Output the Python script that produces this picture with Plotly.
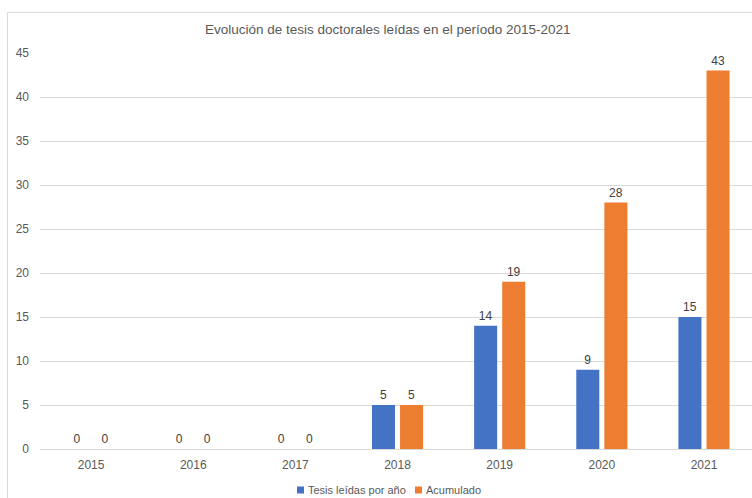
import plotly.graph_objects as go

years = ["2015", "2016", "2017", "2018", "2019", "2020", "2021"]
tesis = [0, 0, 0, 5, 14, 9, 15]
acumulado = [0, 0, 0, 5, 19, 28, 43]
yticks = [0, 5, 10, 15, 20, 25, 30, 35, 40, 45]
series_names = ["Tesis leídas por año", "Acumulado"]
colors = ["#4472C4", "#ED7D31"]

W, H = 752, 498
L, R, T, B = 40, 0, 53, 49
pw, ph = W - L - R, H - T - B

def px(x):
    return (x - L) / pw

def py(y):
    return (H - B - y) / ph

font = "Liberation Sans"
txt = "#595959"

fig = go.Figure()
for name, vals, col in zip(series_names, [tesis, acumulado], colors):
    fig.add_trace(go.Bar(x=years, y=vals, name=name, showlegend=False,
                         marker=dict(color=col, line=dict(width=0)),
                         text=[str(v) for v in vals], textposition="outside",
                         textfont=dict(color="#404040", size=12, family=font),
                         cliponaxis=False))

# manual legend (Excel style small squares)
shapes = [dict(type="rect", xref="paper", yref="paper",
               x0=px(7.5), x1=px(800), y0=py(540), y1=py(12.5),
               line=dict(color="#D9D9D9", width=1), fillcolor="rgba(0,0,0,0)", layer="below")]
annotations = [dict(text="Evolución de tesis doctorales leídas en el período 2015-2021",
                    x=px(388), y=py(30), xref="paper", yref="paper",
                    xanchor="center", yanchor="middle", showarrow=False,
                    font=dict(size=13.5, color=txt, family=font))]
leg_x = [297, 415]
for name, col, x0 in zip(series_names, colors, leg_x):
    shapes.append(dict(type="rect", xref="paper", yref="paper",
                       x0=px(x0), x1=px(x0 + 7), y0=py(493.5), y1=py(486.5),
                       line=dict(width=0), fillcolor=col))
    annotations.append(dict(text=name, x=px(x0 + 9), y=py(490), xref="paper", yref="paper",
                            xanchor="left", yanchor="middle", showarrow=False,
                            font=dict(size=11, color=txt, family=font)))

fig.update_layout(
    width=W, height=H,
    margin=dict(l=L, r=R, t=T, b=B, pad=0),
    paper_bgcolor="white", plot_bgcolor="white",
    barmode="group", bargap=0.45, bargroupgap=0.18,
    font=dict(family=font, color=txt, size=12),
    showlegend=False,
    xaxis=dict(range=[-0.5, 6.47], showgrid=False, showline=True, linecolor="#D9D9D9",
               linewidth=1, ticks="", tickfont=dict(size=12, color=txt), ticklabelstandoff=5),
    yaxis=dict(range=[0, 45], tickvals=yticks, showgrid=True, gridcolor="#D9D9D9",
               gridwidth=1, zeroline=False, showline=False, ticks="",
               tickfont=dict(size=12, color=txt), ticklabelstandoff=10),
    annotations=annotations,
    shapes=shapes,
)

fig.write_html("out.html")
